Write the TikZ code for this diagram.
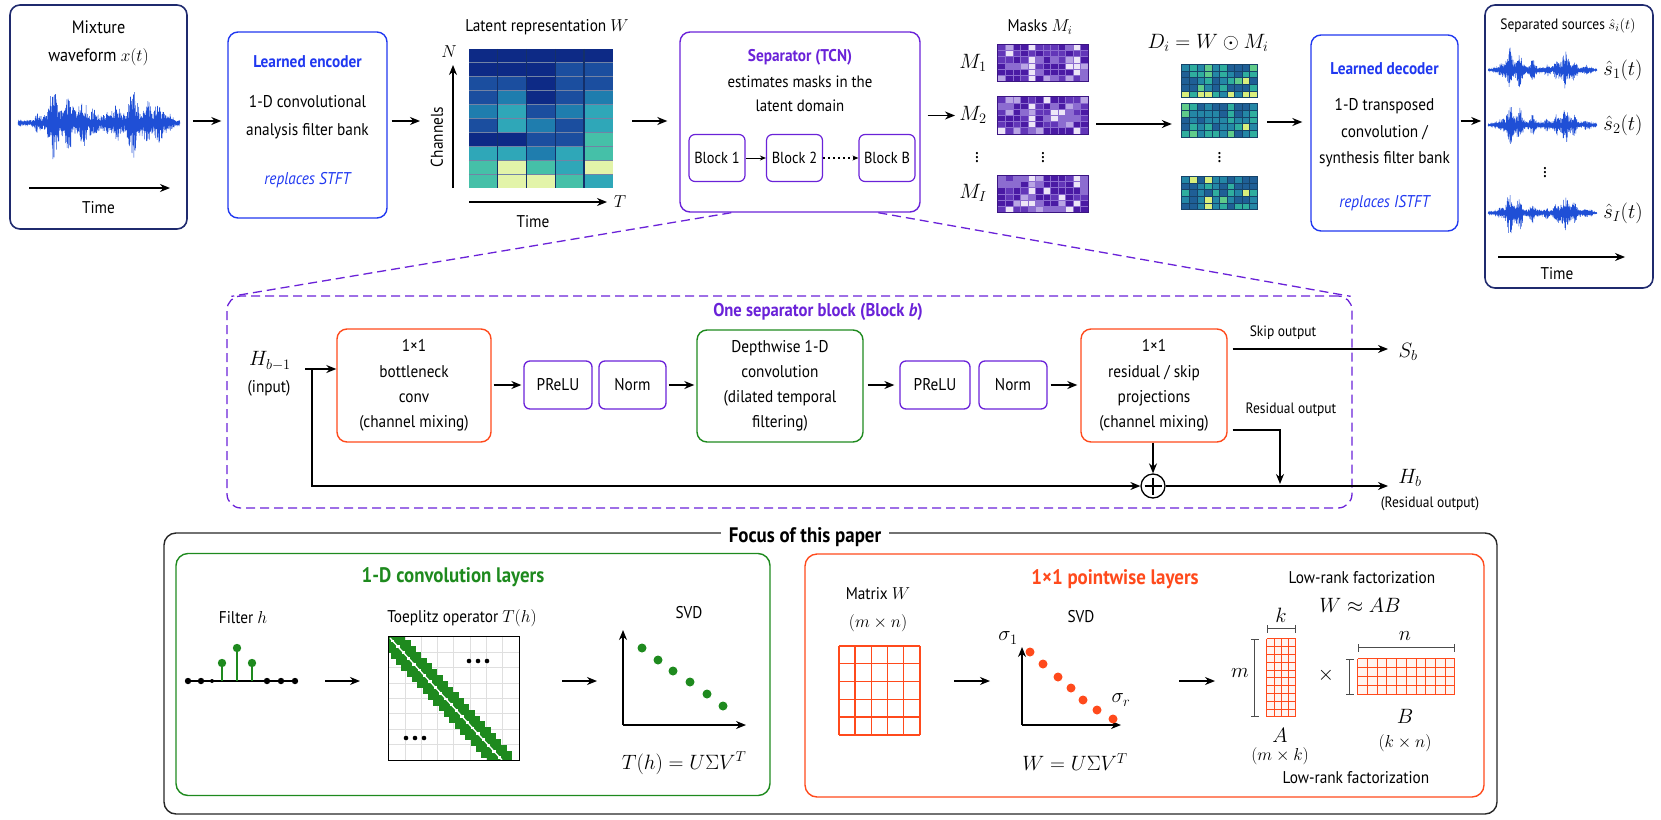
\documentclass[tikz,border=0pt]{standalone}
\usepackage{amsmath}
\usepackage{fontspec}
\setmainfont{PT Sans}[FakeStretch=0.9]
\usepackage{tikz}
\usetikzlibrary{positioning,arrows.meta,calc}

\definecolor{navy}{HTML}{1F2A6E}
\definecolor{encblue}{HTML}{2038F0}
\definecolor{wavblue}{HTML}{1F4FD6}
\definecolor{sepviolet}{HTML}{6A22D8}
\definecolor{projred}{HTML}{FF4A1C}
\definecolor{dwgreen}{HTML}{1E8A1E}
\definecolor{hm0}{HTML}{0D2A86}
\definecolor{hm1}{HTML}{1B4E9F}
\definecolor{hm2}{HTML}{1F7DAE}
\definecolor{hm3}{HTML}{2FA7B8}
\definecolor{hm4}{HTML}{45C0A8}
\definecolor{hm5}{HTML}{8ED6A6}
\definecolor{hm6}{HTML}{E3F4A9}
\definecolor{hmline}{HTML}{14306A}
\definecolor{mk0}{HTML}{4A1AA4}
\definecolor{mk1}{HTML}{6236B8}
\definecolor{mk2}{HTML}{8C6CD0}
\definecolor{mk3}{HTML}{B9A5E4}
\definecolor{mk4}{HTML}{EDE6F7}
\definecolor{dc0}{HTML}{1F5F96}
\definecolor{dc1}{HTML}{2487A6}
\definecolor{dc2}{HTML}{2FAE9E}
\definecolor{dc3}{HTML}{5FCB8A}
\definecolor{dc4}{HTML}{D9EE7C}

\newcommand{\fs}{\fontsize{17}{20}\selectfont}
\newcommand{\fsm}{\fontsize{15}{18}\selectfont}
\newcommand{\fsl}{\fontsize{20}{24}\selectfont}

% one burst of a waveform envelope: position, height
\pgfmathdeclarefunction{brst}{3}{\pgfmathparse{(#3)*(1/(1+(((#1)-(#2))*24)^2))^2}}
\pgfmathdeclarefunction{mixenv}{1}{\pgfmathparse{0.04+brst(#1,0.12,0.2)+brst(#1,0.22,1)+brst(#1,0.31,0.75)+brst(#1,0.4,0.6)+brst(#1,0.47,0.3)+brst(#1,0.55,0.2)+brst(#1,0.61,0.45)+brst(#1,0.71,0.95)+brst(#1,0.8,0.55)+brst(#1,0.87,0.45)+brst(#1,0.93,0.2)}}
\pgfmathdeclarefunction{srcenv}{1}{\pgfmathparse{0.04+brst(#1,0.12,0.25)+brst(#1,0.2,1)+brst(#1,0.29,0.8)+brst(#1,0.41,0.45)+brst(#1,0.54,0.25)+brst(#1,0.63,0.45)+brst(#1,0.71,0.9)+brst(#1,0.79,0.45)+brst(#1,0.9,0.2)}}

\begin{document}
\begin{tikzpicture}[x=1pt,y=-1pt,font=\fs,
    >={Stealth[length=10pt,width=8pt]},
    arr/.style={->,line width=1.3pt},
    small arr/.style={->,line width=1pt,>={Stealth[length=6pt,width=5pt]}},
    panel/.style={draw=navy,line width=1.6pt,rounded corners=10pt},
    coder/.style={draw=encblue,line width=1.4pt,rounded corners=10pt},
    sepbox/.style={draw=sepviolet,line width=1.4pt,rounded corners=10pt},
    blockbox/.style={draw=sepviolet,line width=1.2pt,rounded corners=6pt,
      minimum width=56pt,minimum height=47pt,inner sep=0pt,font=\fontsize{16}{18}\selectfont},
    actbox/.style={draw=sepviolet,line width=1.3pt,rounded corners=6pt,
      minimum height=48pt,inner sep=0pt},
    pwbox/.style={draw=projred,line width=1.4pt,rounded corners=10pt,align=center,
      minimum width=#1,minimum height=113pt,font=\fontsize{17}{25.3}\selectfont},
    dwbox/.style={draw=dwgreen,line width=1.4pt,rounded corners=10pt,align=center,
      minimum width=166pt,minimum height=112pt,font=\fontsize{17}{25}\selectfont},
    zoomln/.style={sepviolet,line width=1.3pt,dash pattern=on 9pt off 5pt},
    brk/.style={{Bar[width=8pt]}-{Bar[width=8pt]},line width=1pt,black!70},
    wav/.style={wavblue,line width=0.5pt},
    dots/.style={font=\fsl,inner sep=0pt}
  ]
\useasboundingbox (0,0) rectangle (1661,819);
\pgfmathsetseed{11}

% ---------------- top row: mixture
\node[panel,minimum width=177pt,minimum height=224pt] (mix) at (98.5,117) {};
\node[align=center,font=\fontsize{18}{28}\selectfont] (mixtxt) at (98.5,43) {Mixture\\waveform $x(t)$};
\draw[wav] plot[domain=0:540,samples=541,variable=\i]
  ({18+0.3*\i},{123+37*mixenv(\i/540)*(1-2*mod(\i,2))*(0.25+0.75*rnd)});
\coordinate (mixt0) at (29,188);
\coordinate (mixt1) at (170,188);
\draw[arr] (mixt0) -- (mixt1);
\node (mixtime) at (98.5,208) {Time};

% encoder
\node[coder,minimum width=159pt,minimum height=186pt] (enc) at (307.5,125) {};
\node[font=\fs\bfseries,text=encblue] (enctitle) at (307.5,62) {Learned encoder};
\node[align=center,font=\fontsize{17}{28}\selectfont] (enctxt) at (307.5,117) {1-D convolutional\\analysis filter bank};
\node[font=\fs\itshape,text=encblue] (encnote) at (307.5,180) {replaces STFT};

% latent representation
\node[minimum width=144pt,minimum height=139pt,inner sep=0pt] (lat) at (541,118.5) {};
\foreach \rowvals [count=\r from 0] in {{0,0,0,0,0},{0,0,0,1,1},{1,1,0,1,1},{1,2,0,1,2},{2,3,1,2,3},
    {1,3,2,1,3},{0,0,1,1,4},{3,3,2,3,4},{4,6,4,3,6},{4,6,6,4,3}} {
  \foreach \v [count=\c from 0] in \rowvals {
    \fill[hm\v] ($(lat.north west)+(\c*28.8,\r*13.9)$) rectangle ++(28.8,13.9);
  }
}
\foreach \r in {1,...,9}
  \draw[hmline!60,line width=0.5pt] ($(lat.north west)+(0,\r*13.9)$) -- ++(144,0);
\foreach \c in {1,...,4}
  \draw[hmline,line width=1.2pt] ($(lat.north west)+(\c*28.8,0)$) -- ++(0,139);
\node (lattitle) at (547,27) {Latent representation $W$};
\coordinate (chb) at (453,188);
\coordinate (cht) at (453,65);
\draw[arr] (chb) -- (cht);
\node (nlbl) at (449,52) {$N$};
\node[rotate=90] (chlbl) at (437,137) {Channels};
\coordinate (tl0) at (469,202);
\coordinate (tl1) at (607,202);
\draw[arr] (tl0) -- (tl1);
\node (tlbl) at (620,202) {$T$};
\node (lattime) at (533,222) {Time};

% separator
\node[sepbox,minimum width=240pt,minimum height=180pt] (sep) at (800,122) {};
\node[font=\fs\bfseries,text=sepviolet] (septitle) at (800,57) {Separator (TCN)};
\node[align=center,font=\fontsize{16.5}{24}\selectfont] (septxt) at (800,94) {estimates masks in the\\latent domain};
\node[blockbox] (b1) at (717,158) {Block 1};
\node[blockbox] (b2) at (794.5,158) {Block 2};
\node[blockbox] (bB) at (887,158) {Block B};
\draw[small arr] (b1) -- (b2);
\draw[small arr,line width=1.3pt,dash pattern=on 2pt off 3pt] (b2) -- (bB);

% masks
\node (masktitle) at (1040,27) {Masks $M_i$};
\foreach \mk/\yy in {m1/63,m2/115.5,mI/194}
  \node[minimum width=90pt,minimum height=37pt,inner sep=0pt] (\mk) at (1043,\yy) {};
\foreach \mk in {m1,m2,mI} {
  \foreach \c in {0,...,11} {
    \foreach \r in {0,...,5} {
      \pgfmathrandominteger{\rr}{0}{99}
      \pgfmathtruncatemacro{\q}{min(99,\rr+45*(\c==4)+20*(\c==10)+15*(\c==9))}
      \pgfmathtruncatemacro{\lv}{\q<42 ? 0 : (\q<68 ? 1 : (\q<84 ? 2 : (\q<94 ? 3 : 4)))}
      \fill[mk\lv] ($(\mk.north west)+(\c*7.5,\r*6.1667)$) rectangle ++(7.5,6.1667);
    }
  }
  \foreach \c in {1,...,11}
    \draw[mk2,line width=0.4pt] ($(\mk.north west)+(\c*7.5,0)$) -- ++(0,37);
  \foreach \r in {1,...,5}
    \draw[mk2,line width=0.3pt] ($(\mk.north west)+(0,\r*6.1667)$) -- ++(90,0);
  \draw[mk0!80!black,line width=0.8pt] (\mk.north west) rectangle (\mk.south east);
}
\node[font=\fsl] (m1lbl) at (973,63) {$M_1$};
\node[font=\fsl] (m2lbl) at (973,115) {$M_2$};
\node[dots] (mdots) at (977,155) {$\vdots$};
\node[dots] (mdots2) at (1043,155) {$\vdots$};
\node[font=\fsl] (mIlbl) at (973,193) {$M_I$};

% masked representations
\node[font=\fsl] (dtitle) at (1208,43) {$D_i = W \odot M_i$};
\foreach \dd/\yy in {d1/81,d2/120.5,dI/193}
  \node[minimum width=75pt,minimum height=33pt,inner sep=0pt] (\dd) at (1219.5,\yy) {};
\foreach \dd in {d1,d2,dI} {
  \foreach \c in {0,...,9} {
    \foreach \r in {0,...,4} {
      \pgfmathrandominteger{\rr}{0}{99}
      \pgfmathtruncatemacro{\q}{min(99,\rr+22*(\c==3)+12*(\c==8)+8*(\r==4))}
      \pgfmathtruncatemacro{\lv}{\q<34 ? 0 : (\q<68 ? 1 : (\q<89 ? 2 : (\q<97 ? 3 : 4)))}
      \fill[dc\lv] ($(\dd.north west)+(\c*7.5,\r*6.6)$) rectangle ++(7.5,6.6);
    }
  }
  \foreach \c in {1,...,9}
    \draw[dc0!70!black,line width=0.4pt] ($(\dd.north west)+(\c*7.5,0)$) -- ++(0,33);
  \foreach \r in {1,...,4}
    \draw[dc0!70!black,line width=0.3pt] ($(\dd.north west)+(0,\r*6.6)$) -- ++(75,0);
  \draw[dc0!70!black,line width=0.8pt] (\dd.north west) rectangle (\dd.south east);
}
\node[dots] (ddots) at (1219.5,155) {$\vdots$};

% decoder
\node[coder,minimum width=147pt,minimum height=196pt] (dec) at (1384.5,133) {};
\node[font=\fs\bfseries,text=encblue] (dectitle) at (1384.5,69) {Learned decoder};
\node[align=center,font=\fontsize{17}{26.5}\selectfont] (dectxt) at (1384.5,133) {1-D transposed\\convolution /\\synthesis filter bank};
\node[font=\fs\itshape,text=encblue] (decnote) at (1384.5,203) {replaces ISTFT};

% separated sources
\node[panel,minimum width=168pt,minimum height=283pt] (src) at (1569,146.5) {};
\node[font=\fsm,inner sep=1pt] (srctitle) at (1568,26) {Separated sources $\hat{s}_i(t)$};
\foreach \yy in {70,125,213}
  \draw[wav] plot[domain=0:360,samples=361,variable=\i]
    ({1488+0.30278*\i},{\yy+21*srcenv(\i/360)*(1-2*mod(\i,2))*(0.25+0.75*rnd)});
\node[font=\fsl] (s1lbl) at (1623,70) {$\hat{s}_1(t)$};
\node[font=\fsl] (s2lbl) at (1623,125) {$\hat{s}_2(t)$};
\node[dots] (sdots) at (1545,170) {$\vdots$};
\node[font=\fsl] (sIlbl) at (1623,213) {$\hat{s}_I(t)$};
\coordinate (st0) at (1498,257);
\coordinate (st1) at (1625,257);
\draw[arr] (st0) -- (st1);
\node (srctime) at (1557,274) {Time};

% top-row connectors
\coordinate (row) at (0,121);
\coordinate (latin) at (420,121);
\draw[arr,shorten <=5pt,shorten >=6pt] (mix.east |- row) -- (enc.west |- row);
\draw[arr,shorten <=4pt] (enc.east |- row) -- (latin);
\draw[arr,shorten <=19pt,shorten >=12pt] (lat.east |- row) -- (sep.west |- row);
\draw[arr,shorten <=7pt,shorten >=43pt] (sep.east |- m2) -- (m2.west -| 998,0);
\draw[arr,shorten <=8pt,shorten >=10pt] (m2.east |- 0,124) -- (d2.west |- 0,124);
\draw[arr,shorten <=10pt,shorten >=8pt] (d2.east |- 0,122) -- (dec.west |- 0,122);
\draw[arr,shorten <=2pt,shorten >=3pt] (dec.east |- row) -- (src.west |- row);

% ---------------- separator block detail
\node[draw=sepviolet,line width=1.3pt,dash pattern=on 9pt off 5pt,rounded corners=14pt,
  minimum width=1125pt,minimum height=212pt] (blk) at (789.5,402) {};
\coordinate (zl) at ($(sep.south west)+(52,0)$);
\coordinate (zr) at ($(sep.south west)+(199,0)$);
\draw[zoomln] (zl) -- ($(blk.north west)+(5,1)$);
\draw[zoomln] (zr) -- ($(blk.north east)+(-2,1)$);
\node[font=\fontsize{18.5}{22}\selectfont\bfseries,text=sepviolet] (blktitle) at (818,312) {One separator block (Block \textit{b})};

\node[font=\fontsize{22}{24}\selectfont] (hin) at (270,361) {$H_{b-1}$};
\node (hinnote) at (269,388) {(input)};
\node[pwbox=154pt] (bott) at (414,385.5) {1×1\\bottleneck\\conv\\(channel mixing)};
\node[actbox,minimum width=68pt] (pr1) at (558,385) {PReLU};
\node[actbox,minimum width=67pt] (nm1) at (632.5,385) {Norm};
\node[dwbox] (dw) at (780,386) {Depthwise 1-D\\convolution\\(dilated temporal\\filtering)};
\node[actbox,minimum width=70pt] (pr2) at (935,385) {PReLU};
\node[actbox,minimum width=68pt] (nm2) at (1013,385) {Norm};
\node[pwbox=146pt] (proj) at (1154,385.5) {1×1\\residual / skip\\projections\\(channel mixing)};
\node[circle,draw,line width=1.3pt,minimum size=24pt,inner sep=0pt] (add) at (1153,486) {};
\draw[line width=1.2pt] ($(add)+(0,-8.5)$) -- ($(add)+(0,8.5)$);
\draw[line width=1.2pt] ($(add)+(-8.5,0)$) -- ($(add)+(8.5,0)$);

\coordinate (hstart) at (305,369);
\coordinate (split) at (312,369);
\draw[arr] (hstart) -- (bott.west |- hstart);
\draw[arr] (split) |- (add.west);
\draw[arr,shorten <=2pt,shorten >=2pt] (bott.east |- pr1) -- (pr1.west);
\draw[arr,shorten <=2pt,shorten >=2pt] (nm1.east) -- (dw.west |- nm1);
\draw[arr,shorten <=4pt,shorten >=5pt] (dw.east |- pr2) -- (pr2.west);
\draw[arr,shorten <=3pt,shorten >=3pt] (nm2.east) -- (proj.west |- nm2);
\draw[arr] (proj.south -| add) -- (add.north);

\coordinate (skipend) at (1388,349);
\draw[arr,shorten <=5pt] (proj.east |- skipend) -- (skipend);
\node[font=\fsm] (skiplbl) at (1283,333) {Skip output};
\node[font=\fontsize{22}{24}\selectfont] (sb) at (1408,352) {$S_b$};
\coordinate (resturn) at (1280,430);
\draw[arr,shorten <=5pt,shorten >=2pt] (proj.east |- resturn) -- (resturn) -- (resturn |- add);
\node[font=\fsm] (reslbl) at (1291,410) {Residual output};
\coordinate (hend) at (1388,486);
\draw[arr] (add.east) -- (hend);
\node[font=\fontsize{22}{24}\selectfont] (hb) at (1410,478) {$H_b$};
\node[font=\fsm] (hbnote) at (1430,504) {(Residual output)};

% ---------------- focus of this paper
\node[draw=black!85,line width=1.4pt,rounded corners=12pt,minimum width=1333pt,minimum height=281pt] (focus) at (830.5,673.5) {};
\node[fill=white,font=\fontsize{21}{24}\selectfont\bfseries,inner xsep=8pt] (focustitle) at (805,537) {Focus of this paper};

% 1-D convolution layers
\node[draw=dwgreen,line width=1.4pt,rounded corners=12pt,minimum width=594pt,minimum height=242pt] (convpanel) at (473,674.5) {};
\node[font=\fontsize{21}{24}\selectfont\bfseries,text=dwgreen] (convtitle) at (453,577) {1-D convolution layers};
\node (filtlbl) at (243,618) {Filter $h$};
\coordinate (ax0) at (187,681);
\coordinate (ax1) at (297,681);
\draw[line width=1.3pt] (ax0) -- (ax1);
\foreach \xx in {188,201,267,281,295}
  \fill (\xx,681) circle (3.2pt);
\fill (212,681) circle (2pt);
\foreach \xx/\yy in {222/663,237/648,252/663} {
  \draw[dwgreen,line width=1.5pt] (\xx,681) -- (\xx,\yy);
  \fill[dwgreen] (\xx,\yy) circle (4.2pt);
}
\coordinate (ca0) at (325,681);
\coordinate (ca1) at (360,681);
\draw[arr] (ca0) -- (ca1);

\node (toeplbl) at (462,618) {Toeplitz operator $T(h)$};
\node[minimum width=130pt,minimum height=123pt,inner sep=0pt] (toep) at (454,698.5) {};
\begin{scope}
  \clip (toep.north west) rectangle (toep.south east);
  \foreach \i in {1,...,7} {
    \draw[gray!25,line width=0.8pt] ($(toep.north west)+(\i*16.25,0)$) -- ++(0,123);
    \draw[gray!25,line width=0.8pt] ($(toep.north west)+(0,\i*15.4)$) -- ++(130,0);
  }
  \foreach \i in {0,...,21} {
    \pgfmathsetmacro{\bx}{390+\i*112/21}
    \pgfmathsetmacro{\by}{638+\i*122/21}
    \fill[dwgreen] (\bx+4.4-5.5,\by-4-5.5) rectangle ++(11,11);
    \fill[dwgreen] (\bx-4.4-5.5,\by+4-5.5) rectangle ++(11,11);
  }
  \draw[white,line width=1.3pt] (390,638) -- (502,760);
\end{scope}
\draw[line width=1.3pt] (toep.north west) rectangle (toep.south east);
\foreach \xx in {469,478,487} \fill (\xx,661) circle (2.3pt);
\foreach \xx in {406,415,424} \fill (\xx,738) circle (2.3pt);

\coordinate (cb0) at (562,681);
\coordinate (cb1) at (597,681);
\draw[arr] (cb0) -- (cb1);
\node (svdlbl) at (689,613) {SVD};
\coordinate (go) at (623,725);
\draw[arr] (go) -- (623,630);
\draw[arr] (go) -- (746,725);
\foreach \xx/\yy in {642/648,658/660,673/671,690/682,707/694,723/706}
  \fill[dwgreen] (\xx,\yy) circle (4.5pt);
\node[font=\fsl] (convsvd) at (684,763) {$T(h) = U\Sigma V^T$};

% 1x1 pointwise layers
\node[draw=projred,line width=1.4pt,rounded corners=12pt,minimum width=679pt,minimum height=243pt] (pointpanel) at (1144.5,675.5) {};
\node[font=\fontsize{21}{24}\selectfont\bfseries,text=projred] (pointtitle) at (1115,579) {1×1 pointwise layers};
\node[align=center,font=\fontsize{17}{28}\selectfont] (wlbl) at (878,610) {Matrix $W$\\$(m\times n)$};
\node[minimum width=81pt,minimum height=89pt,inner sep=0pt] (wmat) at (879.5,690.5) {};
\foreach \i in {0,...,5} {
  \draw[projred,line width=1.4pt] ($(wmat.north west)+(\i*16.2,0)$) -- ++(0,89);
  \draw[projred,line width=1.4pt] ($(wmat.north west)+(0,\i*17.8)$) -- ++(81,0);
}
\coordinate (pa0) at (954,681);
\coordinate (pa1) at (990,681);
\draw[arr] (pa0) -- (pa1);
\node (psvdlbl) at (1081,617) {SVD};
\coordinate (po) at (1022,725);
\draw[arr] (po) -- (1022,647);
\draw[arr] (po) -- (1121,725);
\foreach \xx/\yy in {1030/652,1043/664,1058/677,1071/688,1083/700,1097/710,1113/719}
  \fill[projred] (\xx,\yy) circle (4.5pt);
\node[font=\fsl] (sig1) at (1008,638) {$\sigma_1$};
\node[font=\fsl] (sigr) at (1121,700) {$\sigma_r$};
\node[font=\fsl] (pointsvd) at (1075,762) {$W = U\Sigma V^T$};
\coordinate (pb0) at (1179,681);
\coordinate (pb1) at (1215,681);
\draw[arr] (pb0) -- (pb1);

\node (lrtitle) at (1362,578) {Low-rank factorization};
\node[font=\fsl] (lrform) at (1360,605) {$W \approx AB$};
\node[minimum width=29pt,minimum height=78pt,inner sep=0pt,fill=projred!6] (amat) at (1281.5,678) {};
\foreach \i in {0,...,4}
  \draw[projred,line width=0.9pt] ($(amat.north west)+(\i*7.25,0)$) -- ++(0,78);
\foreach \i in {0,...,10}
  \draw[projred,line width=0.9pt] ($(amat.north west)+(0,\i*7.8)$) -- ++(29,0);
\draw[brk] ($(amat.north west)+(-12,0)$) -- ($(amat.south west)+(-12,0)$);
\draw[brk] ($(amat.north west)+(0,-10)$) -- ($(amat.north east)+(0,-10)$);
\node[font=\fsl] (mlbl) at (1240,673) {$m$};
\node[font=\fsl] (klbl) at (1281,615) {$k$};
\node[font=\fsl] (alabel) at (1280,735) {$A$};
\node (adim) at (1280,756) {$(m\times k)$};
\node[font=\fsl] (times) at (1326,675) {$\times$};
\node[minimum width=97pt,minimum height=36pt,inner sep=0pt,fill=projred!6] (bmat) at (1406.5,677) {};
\foreach \i in {0,...,10}
  \draw[projred,line width=0.9pt] ($(bmat.north west)+(\i*9.7,0)$) -- ++(0,36);
\foreach \i in {0,...,4}
  \draw[projred,line width=0.9pt] ($(bmat.north west)+(0,\i*9)$) -- ++(97,0);
\draw[brk] ($(bmat.north west)+(-8,0)$) -- ($(bmat.south west)+(-8,0)$);
\draw[brk] ($(bmat.north west)+(0,-11)$) -- ($(bmat.north east)+(0,-11)$);
\node[font=\fsl] (nlbl2) at (1405,636) {$n$};
\node[font=\fsl] (blabel) at (1405,716) {$B$};
\node (bdim) at (1405,743) {$(k\times n)$};
\node (lrnote) at (1356,778) {Low-rank factorization};
\end{tikzpicture}
\end{document}
